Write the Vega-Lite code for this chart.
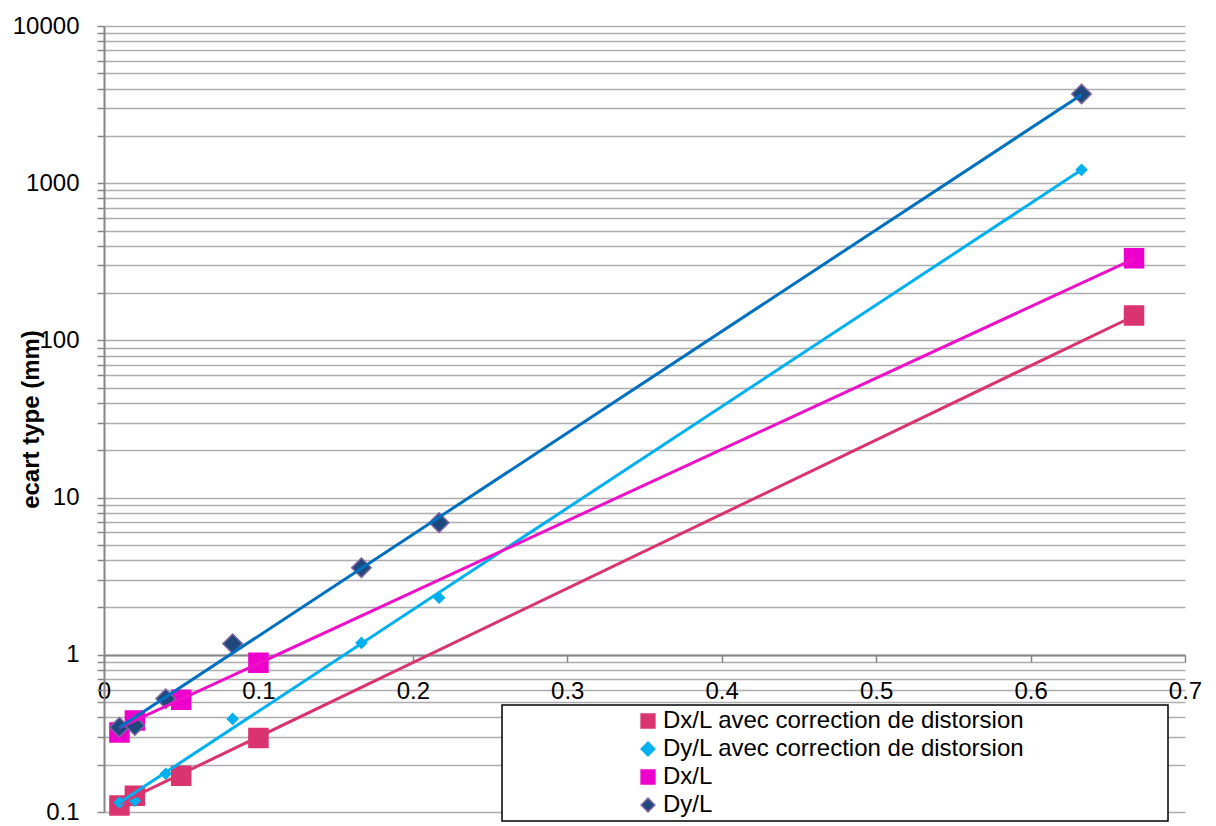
{
  "$schema": "https://vega.github.io/schema/vega-lite/v6.json",
  "width": 1081,
  "height": 786,
  "autosize": {"type": "none"},
  "padding": {"left": 104, "top": 26, "right": 31, "bottom": 14},
  "background": "white",
  "config": {
    "view": {"stroke": null},
    "font": "Liberation Sans",
    "legend": {
      "padding": 4,
      "rowPadding": 4,
      "symbolOffset": 130,
      "labelOffset": 3,
      "labelFontSize": 24,
      "labelFont": "Liberation Sans",
      "labelColor": "black",
      "labelLimit": 900,
      "strokeColor": "black",
      "strokeWidth": 1.5,
      "symbolSize": 190,
      "symbolStrokeWidth": 1.5,
      "fillColor": "white",
      "titleOrient": "right",
      "titlePadding": 139,
      "titleFontSize": 1
    }
  },
  "datasets": {
    "points": [
      {"series": "Dx/L avec correction de distorsion", "x": 0.01, "y": 0.110},
      {"series": "Dx/L avec correction de distorsion", "x": 0.02, "y": 0.127},
      {"series": "Dx/L avec correction de distorsion", "x": 0.05, "y": 0.170},
      {"series": "Dx/L avec correction de distorsion", "x": 0.1, "y": 0.296},
      {"series": "Dx/L avec correction de distorsion", "x": 0.667, "y": 144},
      {"series": "Dy/L avec correction de distorsion", "x": 0.01, "y": 0.115},
      {"series": "Dy/L avec correction de distorsion", "x": 0.02, "y": 0.118},
      {"series": "Dy/L avec correction de distorsion", "x": 0.04, "y": 0.175},
      {"series": "Dy/L avec correction de distorsion", "x": 0.0833, "y": 0.391},
      {"series": "Dy/L avec correction de distorsion", "x": 0.1667, "y": 1.19},
      {"series": "Dy/L avec correction de distorsion", "x": 0.217, "y": 2.31},
      {"series": "Dy/L avec correction de distorsion", "x": 0.633, "y": 1216},
      {"series": "Dx/L", "x": 0.01, "y": 0.321},
      {"series": "Dx/L", "x": 0.02, "y": 0.382},
      {"series": "Dx/L", "x": 0.05, "y": 0.517},
      {"series": "Dx/L", "x": 0.1, "y": 0.889},
      {"series": "Dx/L", "x": 0.667, "y": 333},
      {"series": "Dy/L", "x": 0.01, "y": 0.346},
      {"series": "Dy/L", "x": 0.02, "y": 0.355},
      {"series": "Dy/L", "x": 0.04, "y": 0.525},
      {"series": "Dy/L", "x": 0.0833, "y": 1.175},
      {"series": "Dy/L", "x": 0.1667, "y": 3.58},
      {"series": "Dy/L", "x": 0.217, "y": 6.93},
      {"series": "Dy/L", "x": 0.633, "y": 3690}
    ],
    "trend": [
      {"series": "Dx/L avec correction de distorsion", "x": 0.01, "y": 0.113},
      {"series": "Dx/L avec correction de distorsion", "x": 0.667, "y": 143},
      {"series": "Dy/L avec correction de distorsion", "x": 0.01, "y": 0.1146},
      {"series": "Dy/L avec correction de distorsion", "x": 0.633, "y": 1216},
      {"series": "Dx/L", "x": 0.01, "y": 0.344},
      {"series": "Dx/L", "x": 0.667, "y": 330},
      {"series": "Dy/L", "x": 0.01, "y": 0.345},
      {"series": "Dy/L", "x": 0.633, "y": 3650}
    ]
  },
  "layer": [
    {
      "data": {"name": "points"},
      "mark": {"type": "point", "filled": true, "opacity": 1, "strokeWidth": 1.5},
      "encoding": {
        "x": {
          "field": "x", "type": "quantitative",
          "scale": {"domain": [0, 0.7], "nice": false, "zero": false},
          "axis": {
            "values": [0, 0.1, 0.2, 0.3, 0.4, 0.5, 0.6, 0.7],
            "format": "~g",
            "grid": false,
            "offset": -157,
            "domainColor": "#868686", "domainWidth": 2,
            "tickColor": "#868686", "tickWidth": 1.5, "tickSize": 7,
            "labelFontSize": 24, "labelFont": "Liberation Sans", "labelColor": "black",
            "labelPadding": 17, "labelFlush": false,
            "title": null
          }
        },
        "y": {
          "field": "y", "type": "quantitative",
          "scale": {"type": "log", "domain": [0.1, 10000], "nice": false},
          "axis": {
            "values": [0.1, 0.2, 0.3, 0.4, 0.5, 0.6, 0.7, 0.8, 0.9, 1, 2, 3, 4, 5, 6, 7, 8, 9, 10, 20, 30, 40, 50, 60, 70, 80, 90, 100, 200, 300, 400, 500, 600, 700, 800, 900, 1000, 2000, 3000, 4000, 5000, 6000, 7000, 8000, 9000, 10000],
            "format": "~g",
            "labelExpr": "abs(log(datum.value)/LN10 - round(log(datum.value)/LN10)) < 0.0001 ? datum.label : ''",
            "grid": true, "gridColor": "#ADADAD", "gridWidth": 1.5,
            "domainColor": "#868686", "domainWidth": 2,
            "tickColor": "#868686", "tickWidth": 1.5, "tickSize": 7,
            "labelFontSize": 24, "labelFont": "Liberation Sans", "labelColor": "black",
            "labelPadding": 18,
            "title": "ecart type (mm)",
            "titleFont": "Liberation Sans", "titleFontSize": 24, "titleFontWeight": "bold", "titleColor": "black",
            "titleX": -73, "titleY": 393, "titleAngle": -90, "titleAlign": "center", "titleBaseline": "middle",
            "encode": {
              "ticks": {
                "update": {
                  "x2": {"signal": "abs(log(datum.value)/LN10 - round(log(datum.value)/LN10)) < 0.0001 ? -7 : 6"}
                }
              }
            }
          }
        },
        "fill": {
          "field": "series", "type": "nominal",
          "scale": {
            "domain": ["Dx/L avec correction de distorsion", "Dy/L avec correction de distorsion", "Dx/L", "Dy/L"],
            "range": ["#DA3470", "#00B0F0", "#EE00CC", "#1F497D"]
          },
          "legend": {"title": "\u00a0", "orient": "none", "legendX": 398, "legendY": 679}
        },
        "shape": {
          "field": "series", "type": "nominal",
          "scale": {
            "domain": ["Dx/L avec correction de distorsion", "Dy/L avec correction de distorsion", "Dx/L", "Dy/L"],
            "range": ["square", "diamond", "square", "diamond"]
          },
          "legend": {"title": "\u00a0", "orient": "none", "legendX": 398, "legendY": 679}
        },
        "stroke": {
          "field": "series", "type": "nominal",
          "scale": {
            "domain": ["Dx/L avec correction de distorsion", "Dy/L avec correction de distorsion", "Dx/L", "Dy/L"],
            "range": ["#DA3470", "#00B0F0", "#EE00CC", "#8064A2"]
          },
          "legend": {"title": "\u00a0", "orient": "none", "legendX": 398, "legendY": 679}
        },
        "size": {
          "field": "series", "type": "nominal",
          "scale": {
            "type": "ordinal",
            "domain": ["Dx/L avec correction de distorsion", "Dy/L avec correction de distorsion", "Dx/L", "Dy/L"],
            "range": [361, 110, 361, 380]
          },
          "legend": null
        }
      }
    },
    {
      "data": {"name": "trend"},
      "mark": {"type": "line", "strokeWidth": 3},
      "encoding": {
        "x": {"field": "x", "type": "quantitative"},
        "y": {"field": "y", "type": "quantitative"},
        "color": {
          "field": "series", "type": "nominal",
          "scale": {
            "domain": ["Dx/L avec correction de distorsion", "Dy/L avec correction de distorsion", "Dx/L", "Dy/L"],
            "range": ["#DA3470", "#00B0F0", "#EE10C8", "#0070C0"]
          },
          "legend": null
        }
      }
    }
  ],
  "resolve": {"legend": {"fill": "independent", "shape": "independent", "stroke": "independent"}}
}
